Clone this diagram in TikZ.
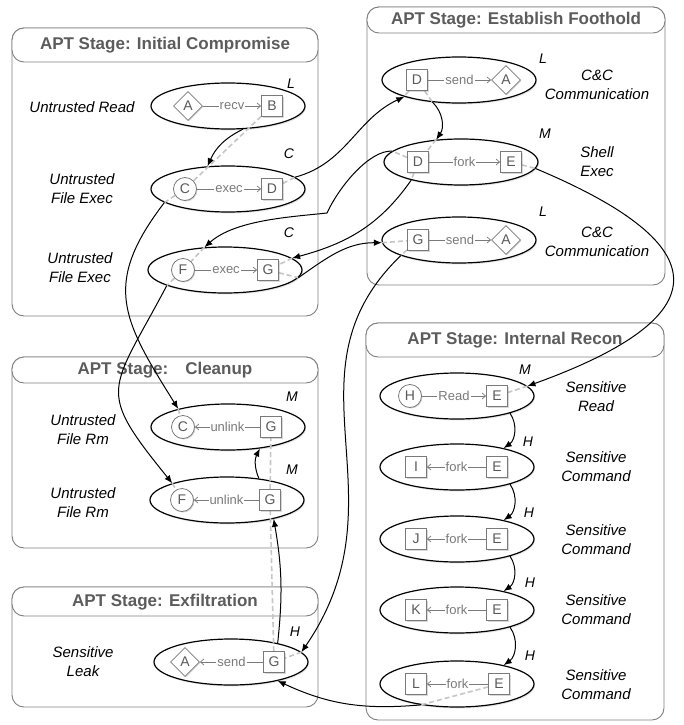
\documentclass[tikz,border=0pt]{standalone}
\usepackage{fontspec}
\setmainfont{Liberation Sans}
\usetikzlibrary{shapes.geometric,arrows.meta,shadows,calc}
\pgfdeclarelayer{bg}
\pgfdeclarelayer{mid}
\pgfsetlayers{bg,mid,main}
\definecolor{panelgray}{HTML}{808080}
\definecolor{titlegray}{HTML}{5C5C5C}
\definecolor{nodegray}{HTML}{7A7A7A}
\definecolor{lettergray}{HTML}{5A5A5A}
\definecolor{dashgray}{HTML}{C6C6C6}
\tikzset{
  panel/.style={draw=panelgray, line width=0.9pt, rounded corners=12pt, fill=white},
  titlebar/.style={draw=panelgray, line width=0.9pt, rounded corners=12pt, fill=white},
  titletext/.style={font=\fontsize{17}{19}\selectfont\bfseries, text=titlegray, inner sep=0pt},
  evt/.style={ellipse, draw=black, line width=1.2pt, fill=white, minimum width=154pt, minimum height=46pt, inner sep=0pt,
    drop shadow={opacity=0.2, shadow xshift=1pt, shadow yshift=-1.5pt}},
  inner/.style={draw=nodegray, line width=0.8pt, fill=white, inner sep=0pt, text=lettergray,
    font=\fontsize{14}{14}\selectfont, drop shadow={opacity=0.3, shadow xshift=1pt, shadow yshift=-1pt}},
  sq/.style={inner, rectangle, minimum size=21pt},
  circ/.style={inner, circle, minimum size=23pt},
  dia/.style={inner, diamond, aspect=1, minimum size=29pt},
  elab/.style={font=\fontsize{13}{13}\selectfont, text=nodegray, fill=white, inner sep=1pt},
  iarrow/.style={draw=nodegray, line width=0.7pt, -{Straight Barb[length=3.5pt,width=6pt]}},
  lvl/.style={font=\fontsize{14}{14}\selectfont\itshape, inner sep=0pt},
  desc/.style={font=\fontsize{15}{19}\selectfont\itshape, align=center, inner sep=0pt},
  flow/.style={draw=black, line width=1pt, -{Latex[length=8pt,width=6.5pt]}},
  dsh/.style={draw=dashgray, line width=1.6pt, dash pattern=on 5pt off 3pt},
}
\begin{document}
\begin{tikzpicture}[x=1pt,y=1pt]
\useasboundingbox (0,0) rectangle (684,-725);
\begin{pgfonlayer}{bg}
  % ---- panels
  \draw[panel] (12,-28) rectangle (318,-316);
  \draw[titlebar] (12,-28) rectangle (318,-62);
  \node[titletext] (t1) at (165,-45) {APT Stage: Initial Compromise};

  \draw[panel] (367,-7) rectangle (665,-285);
  \draw[titlebar] (367,-7) rectangle (665,-33);
  \node[titletext] (t2) at (516,-20) {APT Stage: Establish Foothold};

  \draw[panel] (12,-357) rectangle (318,-548);
  \draw[titlebar] (12,-357) rectangle (318,-383);
  \node[titletext] (t3) at (165,-370) {APT Stage:\hspace{17pt}Cleanup};

  \draw[panel] (12,-587) rectangle (318,-707);
  \draw[titlebar] (12,-587) rectangle (318,-616);
  \node[titletext] (t4) at (165,-602) {APT Stage: Exfiltration};

  \draw[panel] (366,-323) rectangle (664,-720);
  \draw[titlebar] (366,-323) rectangle (664,-357);
  \node[titletext] (t5) at (515,-340) {APT Stage: Internal Recon};

  % ---- event ellipses
  \node[evt] (i1) at (228,-106) {};
  \node[evt] (i2) at (228,-189) {};
  \node[evt] (i3) at (225,-270) {};
  \node[evt] (f1) at (459,-80) {};
  \node[evt] (f2) at (461,-162) {};
  \node[evt] (f3) at (459,-240) {};
  \node[evt] (c1) at (228,-427) {};
  \node[evt] (c2) at (227,-500) {};
  \node[evt] (x1) at (231,-662) {};
  \node[evt] (r1) at (457,-396) {};
  \node[evt] (r2) at (457,-467) {};
  \node[evt] (r3) at (457,-539) {};
  \node[evt] (r4) at (457,-610) {};
  \node[evt] (r5) at (457,-684) {};

  % ---- level letters
  \node[lvl] (li1) at (291,-84) {L};
  \node[lvl] (li2) at (289,-154) {C};
  \node[lvl] (li3) at (289,-233) {C};
  \node[lvl] (lf1) at (543,-59) {L};
  \node[lvl] (lf2) at (545,-134) {M};
  \node[lvl] (lf3) at (543,-212) {L};
  \node[lvl] (lc1) at (292,-397) {M};
  \node[lvl] (lc2) at (292,-470) {M};
  \node[lvl] (lx1) at (295,-632) {H};
  \node[lvl] (lr1) at (525,-370) {M};
  \node[lvl] (lr2) at (528,-442) {H};
  \node[lvl] (lr3) at (529,-513) {H};
  \node[lvl] (lr4) at (530,-583) {H};
  \node[lvl] (lr5) at (530,-656) {H};

  % ---- descriptions
  \node[desc] (di1) at (82,-107) {Untrusted Read};
  \node[desc] (di2) at (82,-189) {Untrusted\\File Exec};
  \node[desc] (di3) at (80,-268) {Untrusted\\File Exec};
  \node[desc] (df1) at (597,-85) {C\&C\\Communication};
  \node[desc] (df2) at (597,-162) {Shell\\Exec};
  \node[desc] (df3) at (597,-242) {C\&C\\Communication};
  \node[desc] (dc1) at (83,-430) {Untrusted\\File Rm};
  \node[desc] (dc2) at (83,-503) {Untrusted\\File Rm};
  \node[desc] (dx1) at (83,-662) {Sensitive\\Leak};
  \node[desc] (dr1) at (596,-397) {Sensitive\\Read};
  \node[desc] (dr2) at (596,-467) {Sensitive\\Command};
  \node[desc] (dr3) at (596,-540) {Sensitive\\Command};
  \node[desc] (dr4) at (596,-610) {Sensitive\\Command};
  \node[desc] (dr5) at (596,-685) {Sensitive\\Command};
\end{pgfonlayer}

% ---- inner entity nodes
\node[dia] (iA) at (188,-106) {A};
\node[sq] (iB) at (272,-106) {B};
\node[circ] (iC) at (185,-189) {C};
\node[sq] (iD) at (272,-189) {D};
\node[circ] (iF) at (183,-270) {F};
\node[sq] (iG) at (268,-270) {G};

\node[sq] (fD1) at (417,-80) {D};
\node[dia] (fA1) at (506,-80) {A};
\node[sq] (fD2) at (418,-162) {D};
\node[sq] (fE2) at (511,-162) {E};
\node[sq] (fG3) at (418,-240) {G};
\node[dia] (fA3) at (506,-240) {A};

\node[circ] (cC1) at (183,-427) {C};
\node[sq] (cG1) at (271,-427) {G};
\node[circ] (cF2) at (182,-500) {F};
\node[sq] (cG2) at (270,-500) {G};

\node[dia] (xA) at (185,-662) {A};
\node[sq] (xG) at (274,-662) {G};

\node[circ] (rH) at (410,-396) {H};
\node[sq] (rE1) at (497,-396) {E};
\node[sq] (rI) at (416,-467) {I};
\node[sq] (rE2) at (497,-467) {E};
\node[sq] (rJ) at (416,-539) {J};
\node[sq] (rE3) at (497,-539) {E};
\node[sq] (rK) at (416,-610) {K};
\node[sq] (rE4) at (497,-610) {E};
\node[sq] (rL) at (416,-684) {L};
\node[sq] (rE5) at (499,-684) {E};

% ---- dashed dependency lines
\begin{pgfonlayer}{mid}
  \draw[dsh] (iB) -- (iC);
  \draw[dsh] (iD) -- (i2.10);
  \draw[dsh] (fD1) -- (f1.-163);
  \draw[dsh] (fD1) -- (f1.-140);
  \draw[dsh] (f2.138) -- (fD2);
  \draw[dsh] (fD2) -- (f2.171);
  \draw[dsh] (i3.132) -- (iF);
  \draw[dsh] (fD2) -- (f2.-160);
  \draw[dsh] (i3.10) -- (iG);
  \draw[dsh] (iG) -- (i3.-6);
  \draw[dsh] (f3.182) -- (fG3);
  \draw[dsh] (fE2) -- (f2.-5);
  \draw[dsh] (r1.8) -- (rE1);
  \draw[dsh] (iC) -- (i2.-168);
  \draw[dsh] (c1.160) -- (cC1);
  \draw[dsh] (iF) -- (i3.-165);
  \draw[dsh] (c2.163) -- (cF2);
  \draw[dsh] (cG2) -- (cG1);
  \draw[dsh] (xG) -- (cG2);
  \draw[dsh] (fG3) -- (f3.-165);
  \draw[dsh] (x1.8) -- (xG);
  \draw[dsh] (rE5) -- (r5.-150);
\end{pgfonlayer}

% ---- inner labelled edges
\draw[iarrow] (iA) -- node[elab] {recv} (iB);
\draw[iarrow] (iC) -- node[elab] {exec} (iD);
\draw[iarrow] (iF) -- node[elab] {exec} (iG);
\draw[iarrow] (fD1) -- node[elab] {send} (fA1);
\draw[iarrow] (fD2) -- node[elab] {fork} (fE2);
\draw[iarrow] (fG3) -- node[elab] {send} (fA3);
\draw[iarrow] (cG1) -- node[elab] {unlink} (cC1);
\draw[iarrow] (cG2) -- node[elab] {unlink} (cF2);
\draw[iarrow] (xG) -- node[elab] {send} (xA);
\draw[iarrow] (rH) -- node[elab] {Read} (rE1);
\draw[iarrow] (rE2) -- node[elab] {fork} (rI);
\draw[iarrow] (rE3) -- node[elab] {fork} (rJ);
\draw[iarrow] (rE4) -- node[elab] {fork} (rK);
\draw[iarrow] (rE5) -- node[elab] {fork} (rL);

% ---- causal flows
\draw[flow] (i1.-57) to[bend right=20] (i2.132);
\draw[flow] (i2.10) to[out=15,in=205] (f1.-163);
\draw[flow] (f1.-140) to[bend left=40] (f2.138);
\draw[flow] (f2.171) .. controls (370,-150) and (340,-185) .. (327,-213)
                    .. controls (290,-217) and (235,-220) .. (i3.132);
\draw[flow] (f2.-160) to[out=-125,in=15] (i3.10);
\draw[flow] (i3.-6) to[out=35,in=180] (f3.182);
\draw[flow] (f2.-5) .. controls (694,-235) and (744,-308) .. (r1.8);
\draw[flow] (i2.-168) .. controls (102,-284) and (122,-319) .. (c1.160);
\draw[flow] (i3.-165) .. controls (110,-393) and (95,-388) .. (c2.163);
\draw[flow] (c2.34) to[bend left=25] (c1.-34);
\draw[flow] (x1.22) to[bend right=8] (c2.-22);
\draw[flow] (f3.-165) .. controls (278,-374) and (408,-497) .. (x1.8);
\draw[flow] (r5.-150) to[out=185,in=-25] (x1.-22);
\draw[flow] (r1.-18) to[bend left=45] (r2.22);
\draw[flow] (r2.-18) to[bend left=45] (r3.22);
\draw[flow] (r3.-18) to[bend left=45] (r4.22);
\draw[flow] (r4.-18) to[bend left=45] (r5.22);
\end{tikzpicture}
\end{document}
